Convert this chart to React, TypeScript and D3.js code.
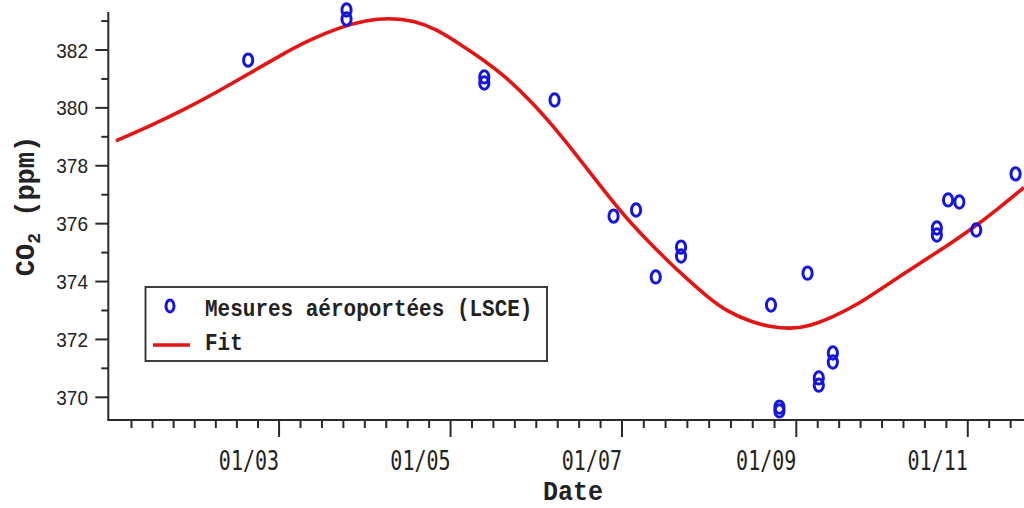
import React from "react";
import * as d3 from "d3";

// Aircraft measurements (LSCE)
const measureDates = [
  "2004-02-19", "2004-03-25", "2004-03-25", "2004-05-13", "2004-05-13",
  "2004-06-07", "2004-06-28", "2004-07-06", "2004-07-13", "2004-07-22",
  "2004-07-22", "2004-08-23", "2004-08-26", "2004-08-26", "2004-09-05",
  "2004-09-09", "2004-09-09", "2004-09-14", "2004-09-14", "2004-10-21",
  "2004-10-21", "2004-10-25", "2004-10-29", "2004-11-04", "2004-11-18",
];
const measureCO2 = [
  381.65, 383.38, 383.07, 381.07, 380.86,
  380.27, 376.26, 376.47, 374.16, 375.19,
  374.88, 373.19, 369.66, 369.53, 374.29,
  370.67, 370.42, 371.53, 371.22, 375.85,
  375.61, 376.82, 376.75, 375.78, 377.72,
];

// Fit curve
const fitDates = [
  "2004-01-03", "2004-01-15", "2004-01-27", "2004-02-08", "2004-02-20",
  "2004-03-01", "2004-03-12", "2004-03-23", "2004-04-01", "2004-04-09",
  "2004-04-18", "2004-04-26", "2004-05-05", "2004-05-13", "2004-05-20",
  "2004-05-29", "2004-06-07", "2004-06-16", "2004-06-28", "2004-07-04",
  "2004-07-10", "2004-07-17", "2004-07-24", "2004-07-31", "2004-08-07",
  "2004-08-16", "2004-08-23", "2004-08-30", "2004-09-05", "2004-09-14",
  "2004-09-23", "2004-10-01", "2004-10-16", "2004-10-25", "2004-11-03",
  "2004-11-11", "2004-11-21",
];
const fitCO2 = [
  378.86, 379.37, 379.93, 380.55, 381.22,
  381.79, 382.36, 382.8, 383.03, 383.11,
  383.02, 382.72, 382.16, 381.64, 381.12,
  380.3, 379.32, 378.22, 376.72, 376.04,
  375.42, 374.74, 374.1, 373.5, 372.98,
  372.6, 372.43, 372.37, 372.44, 372.77,
  373.22, 373.74, 374.7, 375.26, 375.86,
  376.45, 377.25,
];

const xMajorTickDates = ["2004-03-01", "2004-05-01", "2004-07-01", "2004-09-01", "2004-11-01"];
const xMajorTickLabels = ["01/03", "01/05", "01/07", "01/09", "01/11"];
const xMinorBounds = ["2004-01-01", "2004-03-01", "2004-05-01", "2004-07-01", "2004-09-01", "2004-11-01", "2005-01-01"];
const yMajorTicks = [370, 372, 374, 376, 378, 380, 382];
const yMinorTicks = [371, 373, 375, 377, 379, 381, 383];

const legendLabels = ["Mesures aéroportées (LSCE)", "Fit"];

const W = 1024;
const H = 508;
const parse = (s: string) => new Date(s + "T00:00:00Z");

const AXIS = "#2a2a2a";
const BLUE = "#1515e0";
const RED = "#e31414";

export default function App() {
  const left = 108.3;
  const bottom = 420;
  const top = 12;

  const x = d3
    .scaleUtc()
    .domain([new Date(Date.UTC(2003, 11, 31, 6)), new Date(Date.UTC(2004, 10, 21))])
    .range([left, W]);
  const y = d3.scaleLinear().domain([369.216, 383.313]).range([bottom, top]);

  // minor ticks: 8 subdivisions of each 2-month interval
  const minorX: number[] = [];
  for (let i = 0; i < xMinorBounds.length - 1; i++) {
    const a = x(parse(xMinorBounds[i]));
    const b = x(parse(xMinorBounds[i + 1]));
    for (let k = 1; k < 8; k++) {
      const v = a + ((b - a) * k) / 8;
      if (v > left + 3 && v < W) minorX.push(v);
    }
  }

  const fitData = fitDates.map((d, i) => ({ d: parse(d), v: fitCO2[i] }));
  const line = d3
    .line<{ d: Date; v: number }>()
    .x((p) => x(p.d))
    .y((p) => y(p.v))
    .curve(d3.curveBasis);

  const mono = "'Liberation Mono', 'Courier New', monospace";

  return (
    <svg
      width={W}
      height={H}
      style={{ position: "absolute", left: 0, top: 0, background: "#ffffff" }}
    >
      <rect x={0} y={0} width={W} height={H} fill="#ffffff" />

      {/* fit curve */}
      <path d={line(fitData) || ""} fill="none" stroke={RED} strokeWidth={3.6} />

      {/* measurements */}
      {measureDates.map((d, i) => (
        <ellipse
          key={i}
          cx={x(parse(d))}
          cy={y(measureCO2[i])}
          rx={4.6}
          ry={6.2}
          fill="none"
          stroke={BLUE}
          strokeWidth={3}
        />
      ))}

      {/* y axis */}
      <line x1={left} x2={left} y1={top} y2={bottom} stroke={AXIS} strokeWidth={2} />
      {yMajorTicks.map((t) => (
        <g key={"ym" + t}>
          <line x1={left - 13} x2={left} y1={y(t)} y2={y(t)} stroke={AXIS} strokeWidth={2} />
          <text
            transform={`translate(88,${y(t) + 7.5}) scale(1,1.1)`}
            textAnchor="end"
            fontFamily="'Liberation Sans', Arial, sans-serif"
            fontSize={19}
            fill="#222"
          >
            {t}
          </text>
        </g>
      ))}
      {yMinorTicks.map((t) => (
        <line key={"yn" + t} x1={left - 7} x2={left} y1={y(t)} y2={y(t)} stroke={AXIS} strokeWidth={2} />
      ))}

      {/* x axis */}
      <line x1={left - 1} x2={W} y1={bottom} y2={bottom} stroke={AXIS} strokeWidth={2} />
      {minorX.map((v, i) => (
        <line key={"xn" + i} x1={v} x2={v} y1={bottom} y2={bottom + 8} stroke={AXIS} strokeWidth={2} />
      ))}
      {xMajorTickDates.map((d, i) => {
        const v = x(parse(d));
        return (
          <g key={"xm" + i}>
            <line x1={v} x2={v} y1={bottom} y2={bottom + 17} stroke={AXIS} strokeWidth={2} />
            <text
              transform={`translate(${v},470) scale(1,1.3)`}
              textAnchor="end"
              fontFamily="'DejaVu Sans Mono', monospace"
              fontSize={20}
              fill="#222"
            >
              {xMajorTickLabels[i]}
            </text>
          </g>
        );
      })}

      {/* axis titles */}
      <text
        transform="translate(573,500) scale(1,1.12)"
        textAnchor="middle"
        fontFamily={mono}
        fontWeight="bold"
        fontSize={25}
        fill="#222"
      >
        Date
      </text>
      <text
        transform="translate(34,206) rotate(-90)"
        textAnchor="middle"
        fontFamily={mono}
        fontWeight="bold"
        fontSize={27}
        fill="#222"
      >
        CO
        <tspan fontSize={18} dy={6}>
          2
        </tspan>
        <tspan dy={-6}>{"  (ppm)"}</tspan>
      </text>

      {/* legend */}
      <rect x={145.5} y={287} width={401.5} height={74} fill="#ffffff" stroke={AXIS} strokeWidth={1.8} />
      <ellipse cx={170} cy={306} rx={4} ry={6} fill="none" stroke={BLUE} strokeWidth={3} />
      <line x1={153} x2={190} y1={345} y2={345} stroke={RED} strokeWidth={3.6} />
      <text
        transform="translate(205,316) scale(1,1.12)"
        fontFamily={mono}
        fontWeight="bold"
        fontSize={21}
        fill="#222"
      >
        {legendLabels[0]}
      </text>
      <text
        transform="translate(205,350) scale(1,1.12)"
        fontFamily={mono}
        fontWeight="bold"
        fontSize={21}
        fill="#222"
      >
        {legendLabels[1]}
      </text>
    </svg>
  );
}
